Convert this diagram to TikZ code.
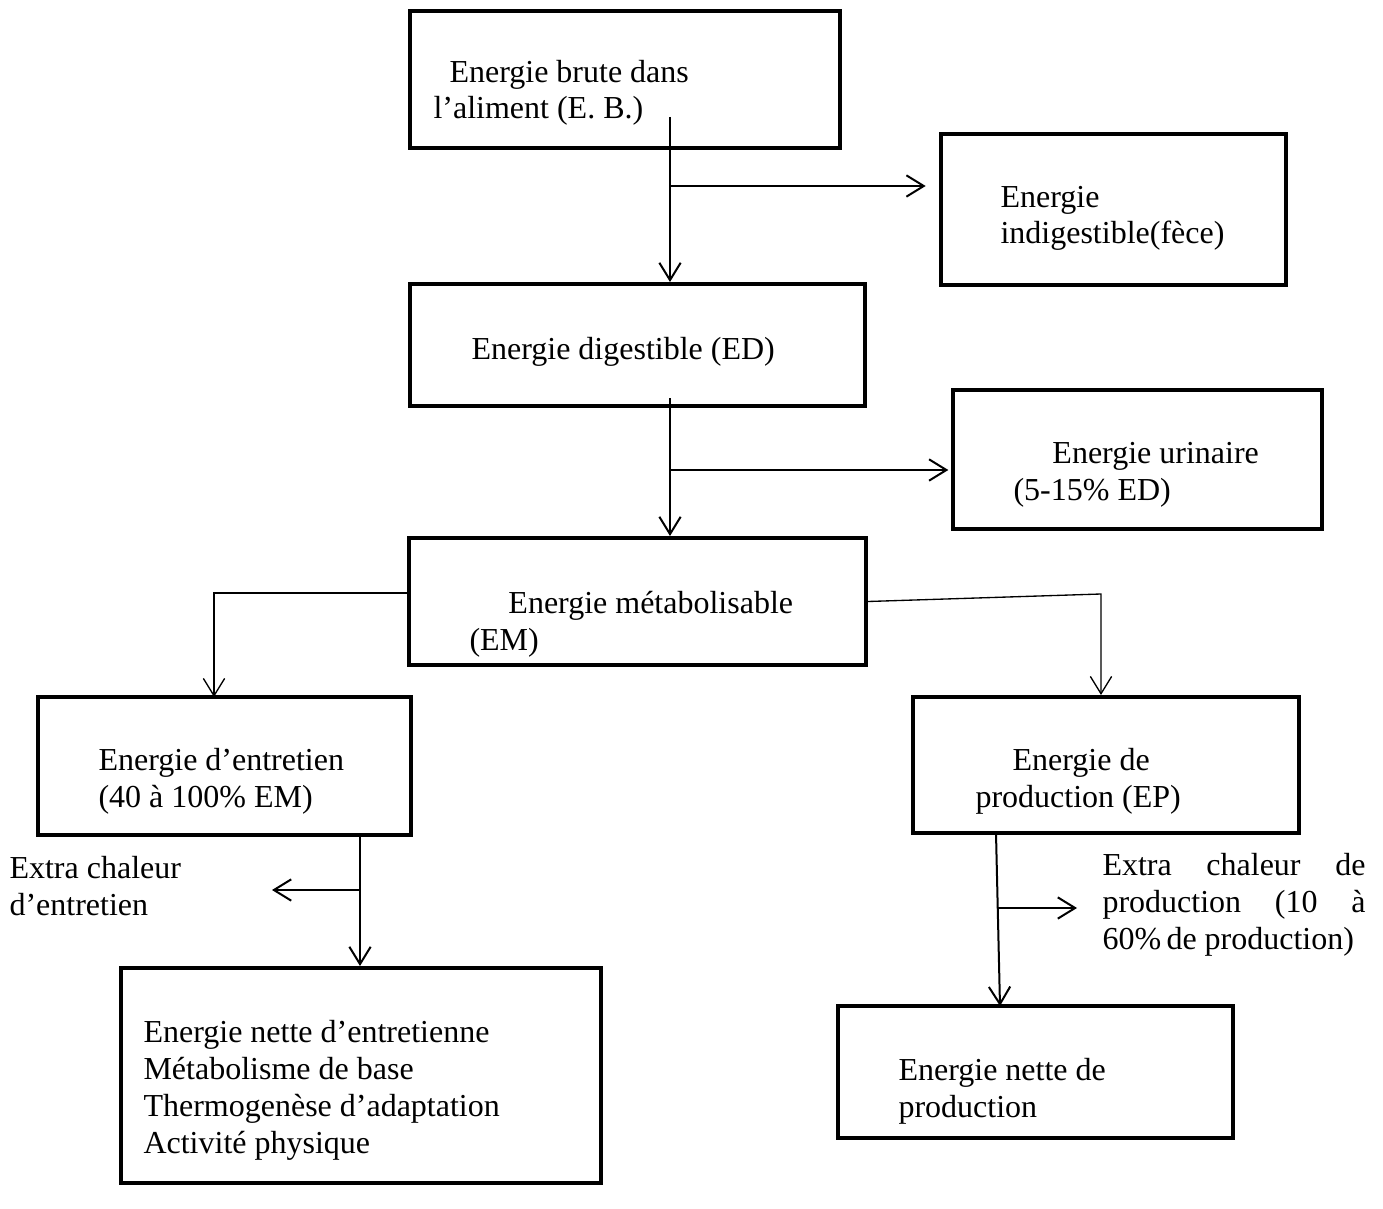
\documentclass[tikz,border=0pt]{standalone}
\usepackage{fontspec}
\setmainfont{Liberation Serif}
\usetikzlibrary{arrows.meta, fit}
\tikzset{
x=0.375pt, y=-0.375pt, % one unit is one pixel of the scan, y grows downwards
>={Straight Barb[length=6.5pt,width=8pt]}, % open arrow heads
boite/.style={draw, line width=1.5pt, inner sep=0pt}, % the framed boxes
texte/.style={anchor=base west, inner sep=0pt, align=left, font=\fontsize{12}{13.8}\selectfont}, % the texts, placed by their last line
fleche/.style={->, line width=0.75pt}, % the arrows
lien/.style={->, line width=0.5pt}, % the thinner arrows leaving EM
}

\begin{document}
\begin{tikzpicture}
    \useasboundingbox (0,0) rectangle (1383,1209);
    \node[boite, fit={(410,11) (840,148)}] (eb) {};
    \node[boite, fit={(941,134) (1286,285)}] (ind) {};
    \node[boite, fit={(410,284) (865,406)}] (ed) {};
    \node[boite, fit={(953,390) (1322,529)}] (uri) {};
    \node[boite, fit={(409,538) (866,665)}] (em) {};
    \node[boite, fit={(38,697) (411,835)}] (ent) {};
    \node[boite, fit={(913,697) (1299,833)}] (prod) {};
    \node[boite, fit={(121,968) (601,1183)}] (nent) {};
    \node[boite, fit={(838,1006) (1233,1138)}] (nprod) {};

    \node[texte] (ebt) at (433,119) {\hspace*{6pt}Energie brute dans\\l’aliment (E. B.)};
    \node[texte] (indt) at (1000,244) {Energie\\indigestible(fèce)};
    \node[texte] (edt) at (471,360) {Energie digestible (ED)};
    \node[texte] (urit) at (1013,500) {\hspace*{14.6pt}Energie urinaire\\(5-15\% ED)};
    \node[texte] (emt) at (469,650) {\hspace*{14.6pt}Energie métabolisable\\(EM)};
    \node[texte] (entt) at (98,807) {Energie d’entretien\\(40 à 100\% EM)};
    \node[texte] (prodt) at (975,807) {\hspace*{13.9pt}Energie de\\production (EP)};
    \node[texte] (xentt) at (9,915) {Extra chaleur\\d’entretien};
    \node[texte] (xprodt) at (1102,949) {\makebox[98.6pt][s]{Extra chaleur de}\\\makebox[98.6pt][s]{production (10 à}\\60\%\,de production)};
    \node[texte] (nentt) at (143,1153) {Energie nette d’entretienne\\Métabolisme de base\\Thermogenèse d’adaptation\\Activité physique};
    \node[texte] (nprodt) at (898,1117) {Energie nette de\\production};

    \coordinate (ebout) at (670,117);
    \coordinate (br1) at (670,186);
    \coordinate (edout) at (670,398);
    \coordinate (br2) at (671,470);
    \coordinate (entin) at (214,697);
    \coordinate (emR) at (1101,594);
    \coordinate (entout) at (360,835);
    \coordinate (br3) at (360,890);
    \coordinate (xent) at (272,890);
    \coordinate (prodout) at (996,833);
    \coordinate (nprodin) at (1000,1006);
    \coordinate (br4) at (998,908);
    \coordinate (xprod) at (1077,908);

    \draw[fleche] (ebout) -- (ebout |- ed.north);
    \draw[fleche, shorten >=5pt] (br1) -- (br1 -| ind.west);
    \draw[fleche] (edout) -- (edout |- em.north);
    \draw[fleche, shorten >=1pt] (br2) -- (br2 -| uri.west);
    \draw[lien] ([yshift=3.2pt]em.west) -| (entin);
    \draw[lien] (em.east) -- (emR) -- (emR |- prod.north);
    \draw[fleche] (entout) -- (entout |- nent.north);
    \draw[fleche] (br3) -- (xent);
    \draw[fleche] (prodout) -- (nprodin);
    \draw[fleche] (br4) -- (xprod);
\end{tikzpicture}
\end{document}
